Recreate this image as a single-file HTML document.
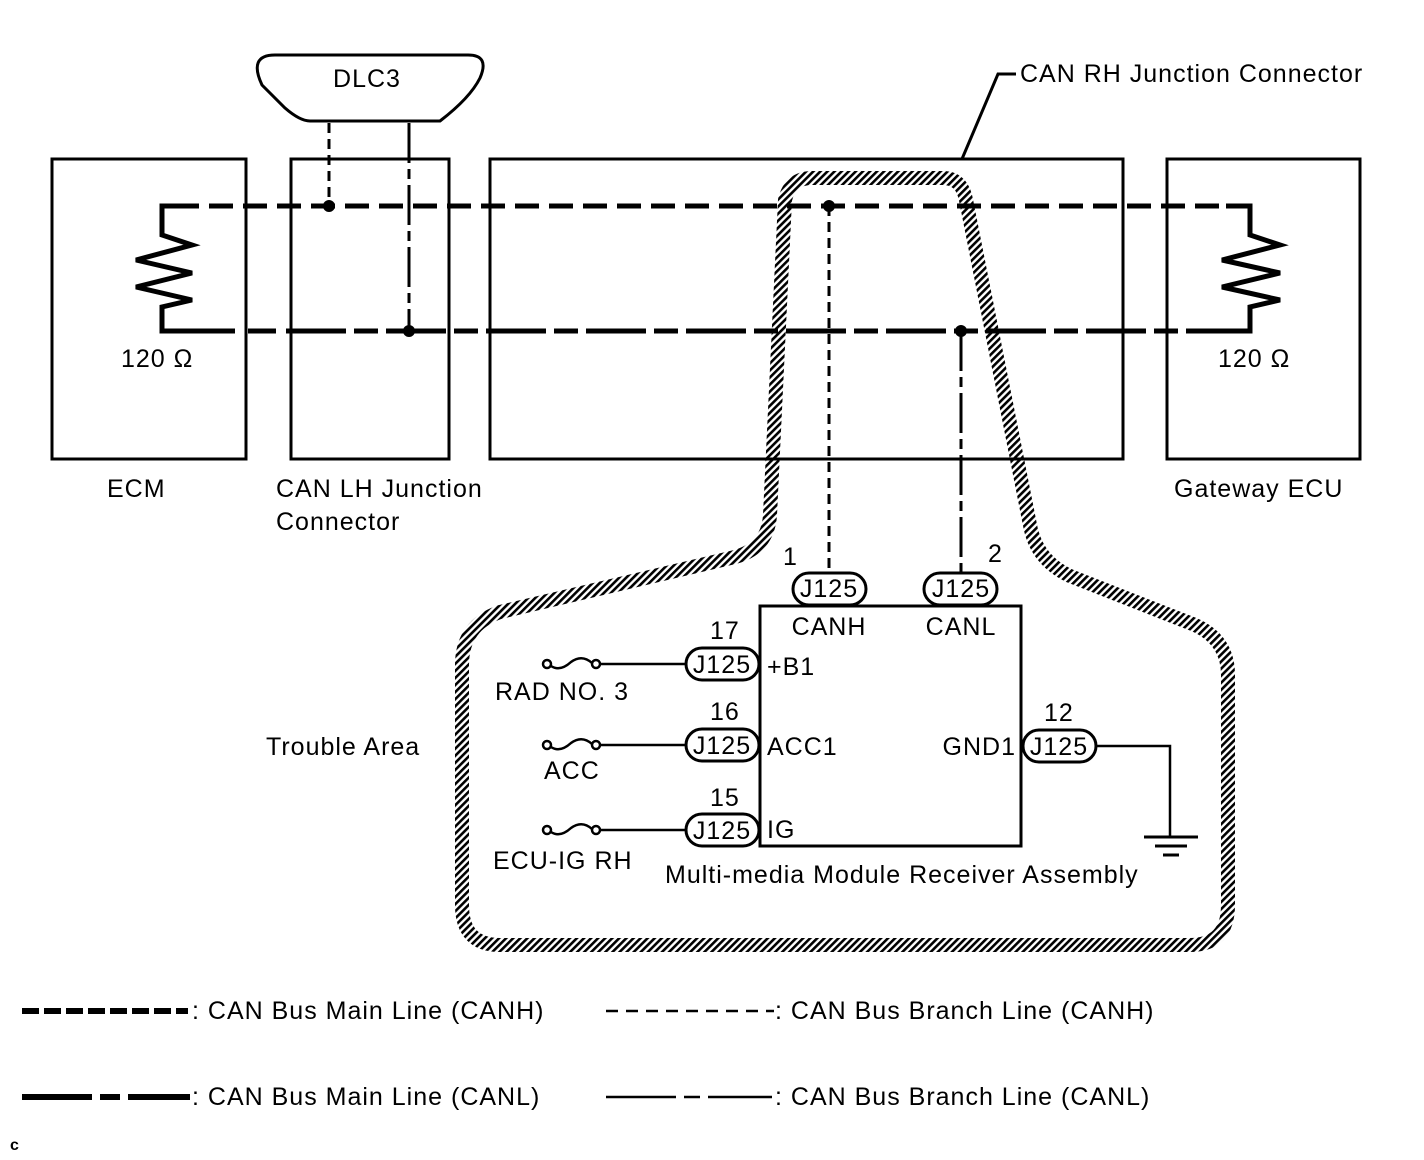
<!DOCTYPE html>
<html><head><meta charset="utf-8"><style>
html,body{margin:0;padding:0;background:#fff;}
svg{display:block;}
text{font-family:"Liberation Sans",Arial,sans-serif;font-size:25px;letter-spacing:1px;fill:#000;}
</style></head><body>
<svg width="1424" height="1160" viewBox="0 0 1424 1160" xmlns="http://www.w3.org/2000/svg">
<defs>
<pattern id="h" width="5" height="5" patternUnits="userSpaceOnUse" patternTransform="rotate(45)">
<rect x="0" y="0" width="2.6" height="5" fill="#000"/>
</pattern>
</defs>
<g fill="none" stroke="#000" stroke-width="3">
<rect x="52" y="159" width="194" height="300"/>
<rect x="291" y="159" width="158" height="300"/>
<rect x="490" y="159" width="633" height="300"/>
<rect x="1167" y="159" width="193" height="300"/>
<path d="M275 55 H468 Q490 55 480 78 Q470 98 440 121 H310 Q300 121 285 108 L262 85 Q248 55 275 55 Z"/>
<path d="M962 159 L998 74 H1016"/>
</g>
<path d="M785 200 Q790 178 812 178 H943 Q962 178 966 200 L1030 525 Q1036 560 1070 576 L1195 625 Q1228 640 1228 675 V905 Q1228 945 1190 945 H500 Q462 945 462 905 V665 Q462 625 500 612 L735 557 Q768 548 770 515 Z" fill="none" stroke="url(#h)" stroke-width="14"/>
<g fill="none" stroke="#000" stroke-width="5">
<path d="M185 206 H162 V235 L192 245 L136 260 L192 273 L136 287 L192 300 L162 307 V331 H175"/>
<path d="M1226 206 H1250 V235 L1280 245 L1222 260 L1280 273 L1222 287 L1280 300 L1250 307 V331 H1236"/>
<line x1="175" y1="206" x2="1245" y2="206" stroke-dasharray="24,10"/>
<path d="M175 331 H240 M248 331 H276 M286 331 H378 M386 331 H1245" stroke-dasharray="60,8,24,8"/>
</g>
<g stroke="#000" stroke-width="3" fill="none">
<line x1="329" y1="123" x2="329" y2="206" stroke-dasharray="10,6"/>
<line x1="409" y1="123" x2="409" y2="331" stroke-dasharray="40,6,10,6"/>
<line x1="829" y1="206" x2="829" y2="572" stroke-dasharray="10,6"/>
<line x1="961" y1="331" x2="961" y2="572" stroke-dasharray="40,6,10,6"/>
</g>
<g fill="#000"><circle cx="329" cy="206" r="6"/><circle cx="409" cy="331" r="6"/><circle cx="829" cy="206" r="6"/><circle cx="961" cy="331" r="6"/></g>
<rect x="760" y="606" width="261" height="240" fill="none" stroke="#000" stroke-width="3"/>
<g fill="#fff" stroke="#000" stroke-width="3">
<rect x="793" y="573" width="73" height="32" rx="16"/>
<rect x="924" y="573" width="73" height="32" rx="16"/>
<rect x="686" y="648" width="73" height="32" rx="16"/>
<rect x="686" y="729" width="73" height="32" rx="16"/>
<rect x="686" y="814" width="73" height="32" rx="16"/>
<rect x="1023" y="730" width="73" height="32" rx="16"/>
</g>
<g stroke="#000" stroke-width="2.5" fill="none">
<path d="M598 664 H686 M598 745 H686 M598 830 H686"/>
<path d="M1096 746 H1170 V836"/>
<circle cx="547" cy="664" r="4" fill="#fff"/><circle cx="596" cy="664" r="4" fill="#fff"/><path d="M551 666 Q560 672 571 662 Q582 654 592 663"/>
<circle cx="547" cy="745" r="4" fill="#fff"/><circle cx="596" cy="745" r="4" fill="#fff"/><path d="M551 747 Q560 753 571 743 Q582 735 592 744"/>
<circle cx="547" cy="830" r="4" fill="#fff"/><circle cx="596" cy="830" r="4" fill="#fff"/><path d="M551 832 Q560 838 571 828 Q582 820 592 829"/>
</g>
<g stroke="#000" stroke-width="3"><line x1="1144" y1="837" x2="1198" y2="837"/><line x1="1155" y1="846" x2="1187" y2="846"/><line x1="1163" y1="855" x2="1179" y2="855"/></g>
<text x="367" y="87" text-anchor="middle">DLC3</text>
<text x="1020" y="82">CAN RH Junction Connector</text>
<text x="121" y="367">120 Ω</text>
<text x="1218" y="367">120 Ω</text>
<text x="107" y="497">ECM</text>
<text x="276" y="497">CAN LH Junction</text>
<text x="276" y="530">Connector</text>
<text x="1174" y="497">Gateway ECU</text>
<text x="783" y="565">1</text>
<text x="988" y="562">2</text>
<text x="829" y="597" text-anchor="middle">J125</text>
<text x="961" y="597" text-anchor="middle">J125</text>
<text x="829" y="635" text-anchor="middle">CANH</text>
<text x="961" y="635" text-anchor="middle">CANL</text>
<text x="710" y="639">17</text>
<text x="710" y="720">16</text>
<text x="710" y="806">15</text>
<text x="1044" y="721">12</text>
<text x="722" y="673" text-anchor="middle">J125</text>
<text x="722" y="754" text-anchor="middle">J125</text>
<text x="722" y="839" text-anchor="middle">J125</text>
<text x="1059" y="755" text-anchor="middle">J125</text>
<text x="767" y="675">+B1</text>
<text x="767" y="755">ACC1</text>
<text x="767" y="838">IG</text>
<text x="1016" y="755" text-anchor="end">GND1</text>
<text x="495" y="700">RAD NO. 3</text>
<text x="544" y="779">ACC</text>
<text x="493" y="869">ECU-IG RH</text>
<text x="665" y="883">Multi-media Module Receiver Assembly</text>
<text x="266" y="755">Trouble Area</text>
<line x1="22" y1="1011" x2="188" y2="1011" stroke="#000" stroke-width="6" stroke-dasharray="17,5"/>
<line x1="606" y1="1011" x2="774" y2="1011" stroke="#000" stroke-width="2.5" stroke-dasharray="12,8"/>
<path d="M22 1097 H92 M100 1097 H120 M128 1097 H190" stroke="#000" stroke-width="6"/>
<path d="M606 1097 H676 M684 1097 H700 M708 1097 H772" stroke="#000" stroke-width="2.5"/>
<text x="192" y="1019">: CAN Bus Main Line (CANH)</text>
<text x="775" y="1019">: CAN Bus Branch Line (CANH)</text>
<text x="192" y="1105">: CAN Bus Main Line (CANL)</text>
<text x="775" y="1105">: CAN Bus Branch Line (CANL)</text>
<text x="10" y="1150" style="font-size:16px;font-weight:bold;letter-spacing:0">c</text>
</svg>
</body></html>
